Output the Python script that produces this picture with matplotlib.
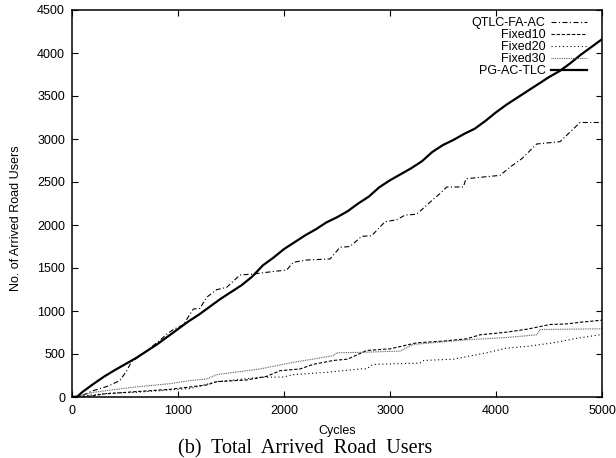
import matplotlib
matplotlib.use("Agg")
import matplotlib.pyplot as plt

# Cumulative arrived road users per controller (cycle, count)
pg_x = [0, 50, 100, 200, 300, 400, 500, 600, 700, 800, 900, 1000, 1100, 1200, 1300,
        1400, 1500, 1600, 1700, 1800, 1900, 2000, 2100, 2200, 2300, 2400, 2500, 2600,
        2700, 2800, 2900, 3000, 3100, 3200, 3300, 3400, 3500, 3600, 3700, 3800, 3900,
        4000, 4100, 4200, 4300, 4400, 4500, 4600, 4700, 4800, 4900, 5000]
pg_y = [0, 5, 60, 150, 235, 310, 380, 450, 530, 610, 700, 790, 880, 960, 1050,
        1140, 1220, 1300, 1400, 1530, 1620, 1720, 1800, 1880, 1950, 2030, 2090, 2160,
        2250, 2330, 2440, 2520, 2590, 2660, 2740, 2850, 2930, 2990, 3060, 3120, 3210,
        3310, 3400, 3480, 3560, 3640, 3720, 3790, 3880, 3980, 4070, 4160]

qtlc_x = [0, 60, 100, 200, 300, 359, 453, 516, 563, 610, 700, 768, 830, 893, 956,
          1050, 1145, 1207, 1270, 1365, 1459, 1585, 1711, 1837, 2025, 2088, 2214,
          2434, 2528, 2623, 2733, 2827, 2953, 3063, 3142, 3252, 3409, 3472, 3535,
          3692, 3717, 4038, 4132, 4242, 4321, 4384, 4604, 4793, 5000]
qtlc_y = [0, 5, 20, 74, 110, 137, 193, 304, 415, 450, 530, 600, 660, 730, 785,
          840, 1023, 1030, 1159, 1248, 1275, 1419, 1430, 1450, 1477, 1566, 1593,
          1605, 1740, 1750, 1868, 1875, 2038, 2061, 2115, 2125, 2300, 2365, 2442,
          2442, 2538, 2577, 2673, 2769, 2865, 2942, 2969, 3192, 3192]

fixed10_x = [0, 100, 200, 300, 610, 925, 1122, 1270, 1365, 1648, 1837, 1962, 2151,
             2277, 2466, 2600, 2780, 3000, 3252, 3500, 3724, 3849, 4101, 4300, 4510,
             4667, 4800, 5000]
fixed10_y = [0, 5, 15, 35, 63, 89, 118, 140, 178, 198, 240, 306, 326,
             380, 425, 440, 541, 560, 630, 650, 677, 723, 754, 790, 843,
             850, 870, 893]

fixed20_x = [0, 100, 200, 359, 610, 1122, 1365, 1774, 1994, 2088, 2403, 2717, 2780,
             2840, 3283, 3320, 3600, 3912, 4101, 4300, 4541, 4750, 5000]
fixed20_y = [0, 10, 25, 45, 55, 100, 178, 229, 232, 260, 287, 326, 329,
             379, 394, 425, 440, 514, 568, 590, 630, 680, 727]

fixed30_x = [0, 100, 201, 359, 610, 925, 1122, 1270, 1365, 1774, 2088, 2466, 2497,
             2717, 3095, 3220, 3724, 4101, 4384, 4415, 5000]
fixed30_y = [0, 20, 54, 80, 118, 155, 193, 209, 260, 326, 403, 480, 514,
             519, 534, 611, 665, 692, 723, 785, 793]

x_ticks = [0, 1000, 2000, 3000, 4000, 5000]
y_ticks = [0, 500, 1000, 1500, 2000, 2500, 3000, 3500, 4000, 4500]

plt.rcParams['font.family'] = ['Liberation Sans', 'DejaVu Sans']

W, H = 616, 458
fig = plt.figure(figsize=(W / 100, H / 100), dpi=100)
ax = fig.add_axes([72 / W, 1 - 397 / H, 530 / W, 387 / H])

series = [
    ("QTLC-FA-AC", qtlc_x, qtlc_y, dict(color='black', lw=0.8, dashes=[4.5, 2.2, 1.0, 2.2])),
    ("Fixed10", fixed10_x, fixed10_y, dict(color='black', lw=0.8, dashes=[3.0, 1.6])),
    ("Fixed20", fixed20_x, fixed20_y, dict(color='black', lw=0.8, dashes=[1.0, 2.4])),
    ("Fixed30", fixed30_x, fixed30_y, dict(color='#555555', lw=0.8, dashes=[0.8, 0.8])),
    ("PG-AC-TLC", pg_x, pg_y, dict(color='black', lw=1.6, linestyle='-')),
]
for label, xs, ys, style in series:
    ax.plot(xs, ys, label=label, **style)

ax.set_xlim(0, 5000)
ax.set_ylim(0, 4500)
ax.set_xticks(x_ticks)
ax.set_yticks(y_ticks)
ax.tick_params(direction='in', top=True, right=True, length=4.5, width=0.8,
               labelsize=9, colors='black')
ax.tick_params(axis='x', pad=6)
ax.tick_params(axis='y', pad=5)
for sp in ax.spines.values():
    sp.set_linewidth(1.1)

leg = ax.legend(loc='upper right', bbox_to_anchor=(587 / W, 1 - 17 / H),
                bbox_transform=fig.transFigure, frameon=False, markerfirst=False,
                fontsize=9, handlelength=2.9, handletextpad=0.4,
                labelspacing=0.0, borderpad=0, borderaxespad=0)

fig.text(337 / W, 1 - 431 / H, "Cycles", ha='center', va='center', fontsize=9)
fig.text(16 / W, 1 - 218 / H, "No. of Arrived Road Users", ha='center', va='center',
         rotation=90, fontsize=9)
fig.text(305 / W, 1 - 453 / H, "(b)  Total  Arrived  Road  Users", ha='center',
         va='baseline', fontsize=14.5, family=['Liberation Serif', 'DejaVu Serif'])

fig.savefig("out.png", dpi=100)
